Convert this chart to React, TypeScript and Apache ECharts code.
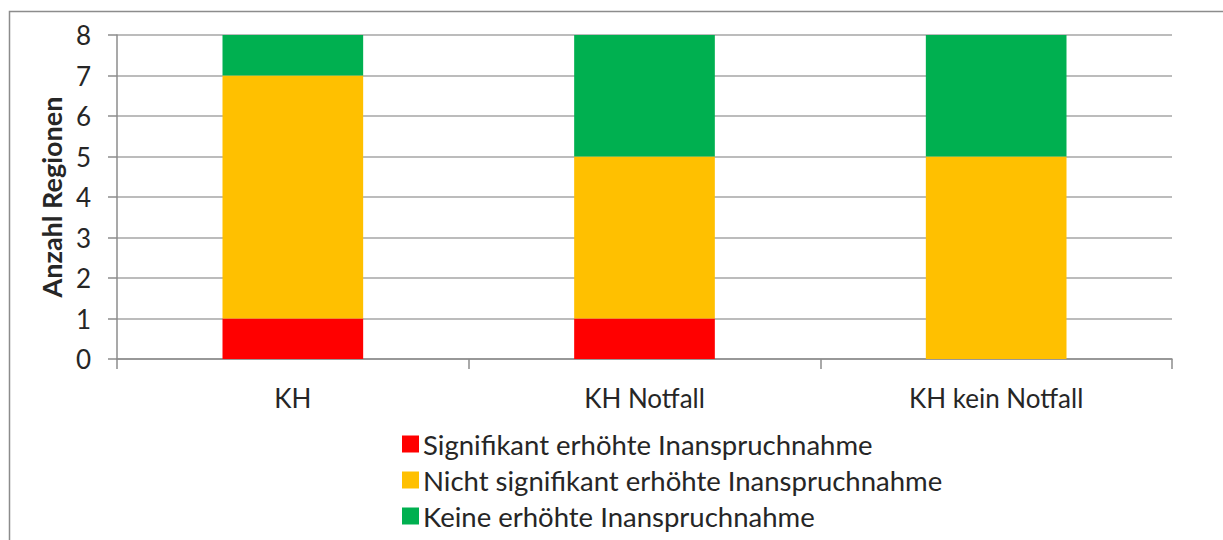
import React, { useEffect, useRef } from "react";
import * as echarts from "echarts";

const categories = ["KH", "KH Notfall", "KH kein Notfall"];
const seriesNames = [
  "Signifikant erhöhte Inanspruchnahme",
  "Nicht signifikant erhöhte Inanspruchnahme",
  "Keine erhöhte Inanspruchnahme",
];
const signifikant = [1, 1, 0];
const nichtSignifikant = [6, 4, 5];
const keine = [1, 3, 3];
const colors = ["#FF0000", "#FFC000", "#00B050"];
const FONT = "Lato";
const TXT = "#262626";

export default function App() {
  const ref = useRef<HTMLDivElement>(null);
  useEffect(() => {
    if (!ref.current) return;
    const chart = echarts.init(ref.current, null, { renderer: "svg" });
    const values = [signifikant, nichtSignifikant, keine];
    chart.setOption({
      animation: false,
      textStyle: { fontFamily: FONT, color: TXT },
      graphic: [
        {
          type: "rect",
          shape: { x: 9.5, y: 11.5, width: 1230, height: 540 },
          style: { fill: "none", stroke: "#8c8c8c", lineWidth: 1.5 },
          silent: true,
        },
      ],
      grid: { left: 117, right: 51, top: 35, bottom: 181, containLabel: false },
      legend: {
        orient: "vertical",
        left: 397,
        top: 425,
        itemWidth: 17,
        itemHeight: 17,
        itemGap: 8,
        icon: "rect",
        data: seriesNames,
        textStyle: { fontFamily: FONT, fontSize: 27.5, color: TXT, padding: [0, 0, 0, -1] },
      },
      xAxis: {
        type: "category",
        data: categories,
        axisLine: { show: true, lineStyle: { color: "#8c8c8c", width: 1.5 } },
        axisTick: { show: true, length: 10, lineStyle: { color: "#8c8c8c", width: 1.5 } },
        axisLabel: { fontFamily: FONT, fontSize: 26, color: TXT, margin: 26 },
      },
      yAxis: {
        type: "value",
        min: 0,
        max: 8,
        interval: 1,
        name: "Anzahl Regionen",
        nameLocation: "middle",
        nameGap: 51,
        nameTextStyle: { fontFamily: FONT, fontSize: 27, fontWeight: "bold", color: TXT },
        axisLine: { show: true, lineStyle: { color: "#8c8c8c", width: 1.5 } },
        axisTick: { show: true, length: 9, lineStyle: { color: "#8c8c8c", width: 1.5 } },
        axisLabel: { fontFamily: FONT, fontSize: 26, color: TXT, margin: 26 },
        splitLine: { show: true, lineStyle: { color: "#a6a6a6", width: 1.5 } },
      },
      series: seriesNames.map((name, i) => ({
        name,
        type: "bar",
        stack: "total",
        data: values[i],
        barWidth: "40%",
        itemStyle: { color: colors[i] },
      })),
    });
    return () => chart.dispose();
  }, []);
  return (
    <div
      ref={ref}
      style={{ position: "fixed", left: 0, top: 0, width: 1223, height: 540, background: "#fff" }}
    />
  );
}
